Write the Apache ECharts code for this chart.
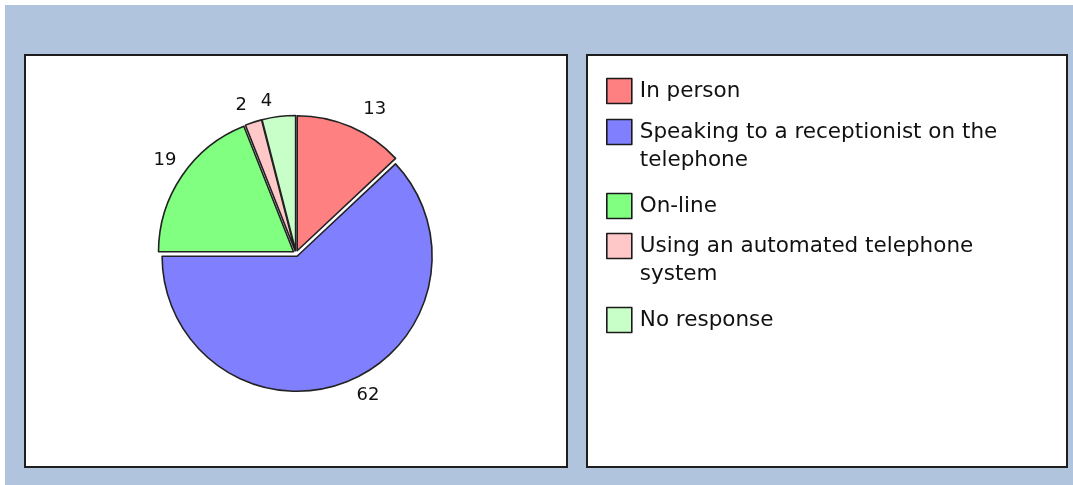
<!DOCTYPE html>
<html>
<head>
<meta charset="utf-8">
<script src="https://cdn.jsdelivr.net/npm/echarts@6/dist/echarts.min.js"></script>
<style>
  html, body { margin: 0; padding: 0; background: #ffffff; }
  #chart { width: 1073px; height: 485px; }
</style>
</head>
<body>
<div id="chart"></div>
<script>
// Survey: how people contact the practice
const categories = [
  'In person',
  'Speaking to a receptionist on the telephone',
  'On-line',
  'Using an automated telephone system',
  'No response'
];
const values = [13, 62, 19, 2, 4];
// Legend text, broken into the lines it is shown on
const legendLines = [
  ['In person'],
  ['Speaking to a receptionist on the', 'telephone'],
  ['On-line'],
  ['Using an automated telephone', 'system'],
  ['No response']
];
const sliceColors = ['#FF8080', '#8080FF', '#80FF80', '#FFC8C8', '#C8FFC8'];

// Layout of the frame, legend and value labels
const LINE_H = 28;
const legendIconTops = [77, 118, 192, 232, 306];
const labelLineLengths = [19, 13, 15, 14, 12];
const labelNudges = [[0, 0], [0, 1], [12, -7], [3, -4], [0, -3]];

const chart = echarts.init(document.getElementById('chart'), null, { renderer: 'canvas' });

const pieData = categories.map((name, i) => ({
  name: name,
  value: values[i],
  selected: true,
  itemStyle: { color: sliceColors[i] },
  labelLine: { show: false, length: labelLineLengths[i], length2: 0 }
}));

const legends = categories.map((name, i) => {
  const lines = legendLines[i];
  // the text block is centred on the icon, so blank lines on top keep line one level with it
  const blanks = lines.length - 1;
  const text = '\n'.repeat(blanks) + lines.join('\n');
  const boxH = LINE_H * (lines.length + blanks);
  const above = Math.max(0, boxH / 2 - 12.5);
  return {
    data: [name],
    orient: 'vertical',
    left: 606,
    top: legendIconTops[i] - above,
    padding: 0,
    itemWidth: 25,
    itemHeight: 25,
    icon: 'rect',
    selectedMode: false,
    itemStyle: { borderColor: '#1a1a1a', borderWidth: 1.6 },
    formatter: () => text,
    textStyle: {
      fontFamily: 'DejaVu Sans',
      fontSize: 21.5,
      color: '#111',
      lineHeight: LINE_H,
      padding: [3, 0, 0, 3]
    }
  };
});

chart.setOption({
  animation: false,
  backgroundColor: '#ffffff',
  graphic: [
    { type: 'rect', z: -10, shape: { x: 5, y: 5, width: 1068, height: 480 }, style: { fill: '#B0C4DE' } },
    { type: 'rect', z: -9, shape: { x: 25, y: 55, width: 542, height: 412 },
      style: { fill: '#ffffff', stroke: '#1e1e1e', lineWidth: 2 } },
    { type: 'rect', z: -9, shape: { x: 587, y: 55, width: 480, height: 412 },
      style: { fill: '#ffffff', stroke: '#1e1e1e', lineWidth: 2 } }
  ],
  legend: legends,
  series: [{
    type: 'pie',
    center: [296, 253.5],
    radius: [0, 135],
    startAngle: 90,
    clockwise: true,
    selectedMode: 'multiple',
    selectedOffset: 3,
    avoidLabelOverlap: false,
    emphasis: { disabled: true },
    itemStyle: { borderColor: '#222', borderWidth: 1.6 },
    select: { itemStyle: { borderColor: '#222', borderWidth: 1.6 } },
    label: {
      show: true,
      position: 'outside',
      formatter: '{c}',
      fontFamily: 'DejaVu Sans',
      fontSize: 18,
      color: '#111',
      distanceToLabelLine: 5
    },
    labelLine: { show: false },
    labelLayout: (p) => ({ dx: labelNudges[p.dataIndex][0], dy: labelNudges[p.dataIndex][1] }),
    data: pieData
  }]
});
</script>
</body>
</html>
